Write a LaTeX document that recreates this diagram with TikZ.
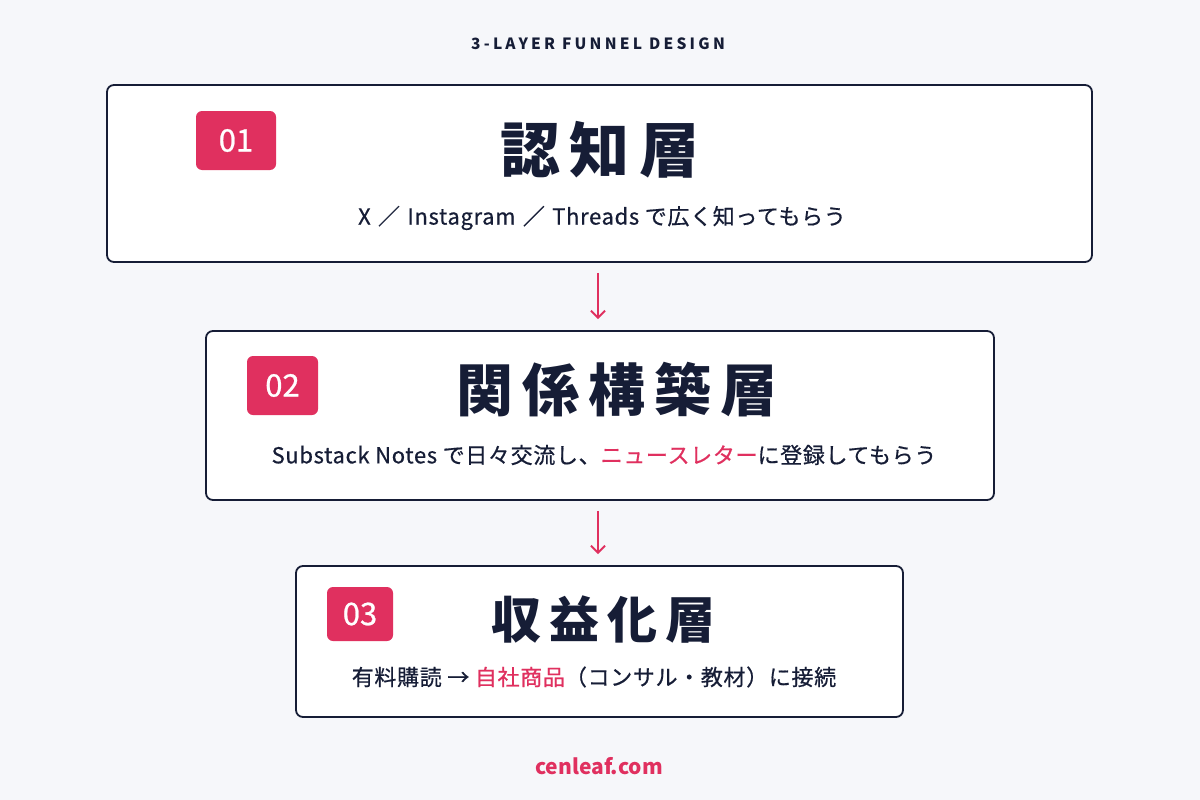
\documentclass[tikz,border=0pt]{standalone}
\usepackage{fontspec}
\setmainfont{Noto Sans CJK JP}
\usetikzlibrary{arrows.meta}
\definecolor{bg}{HTML}{F6F7FA}
\definecolor{navy}{HTML}{161D36}
\definecolor{crim}{HTML}{E0305F}
\tikzset{
  layer/.style={draw=navy, line width=1.8pt, fill=white, rounded corners=7pt},
  badge/.style={fill=crim, rounded corners=6pt, text=white, font=\fontsize{31}{33}\selectfont\addfontfeatures{FakeBold=0.8}},
  ttl/.style={text=navy, font=\fontsize{#1}{#1}\selectfont\bfseries\addfontfeatures{LetterSpace=16}},
  sub/.style={text=navy, font=\fontsize{22}{25}\selectfont\addfontfeatures{LetterSpace=3,FakeBold=0.6}},
  arr/.style={draw=crim, line width=2pt, -{Straight Barb[length=7pt,width=14pt,line width=2pt]}, shorten <=10pt, shorten >=11pt},
}
\begin{document}
\begin{tikzpicture}[x=1pt,y=-1pt]
\fill[bg] (0,0) rectangle (1200,800);
\useasboundingbox (0,0) rectangle (1200,800);
\node[text=navy, font=\fontsize{15.5}{17}\selectfont\bfseries\addfontfeatures{LetterSpace=21}] (hdr) at (598,44) {3-LAYER FUNNEL DESIGN};

\node[layer, minimum width=985pt, minimum height=177pt] (b1) at (599.5,173.5) {};
\node[layer, minimum width=788pt, minimum height=169pt] (b2) at (600,415.5) {};
\node[layer, minimum width=607pt, minimum height=151pt] (b3) at (599.5,641.5) {};

\node[badge, minimum width=80pt, minimum height=59pt] (n1) at (236,140.5) {01};
\node[badge, minimum width=71pt, minimum height=59pt] (n2) at (282.5,385.5) {02};
\node[badge, minimum width=66pt, minimum height=54pt] (n3) at (360,614) {03};

\node[ttl=60] (t1) at (600,150) {認知層};
\node[ttl=57] (t2) at (617,390) {関係構築層};
\node[ttl=50] (t3) at (603,620) {収益化層};

\node[sub] (s1) at (602,218) {X\,\,／\,\,Instagram\,\,／\,\,Threads で広く知ってもらう};
\node[sub] (s2) at (604,455) {Substack Notes で日々交流し、\textcolor{crim}{ニュースレター}に登録してもらう};
\node[sub] (s3) at (594,677) {有料購読\ → \textcolor{crim}{自社商品}（コンサル・教材）に接続};

\draw[arr] (b1.south -| 598,0) -- (b2.north -| 598,0);
\draw[arr] (b2.south -| 598,0) -- (b3.north -| 598,0);

\node[text=crim, font=\fontsize{21}{24}\selectfont\bfseries] (ft) at (599,766) {cenleaf.com};
\end{tikzpicture}
\end{document}
